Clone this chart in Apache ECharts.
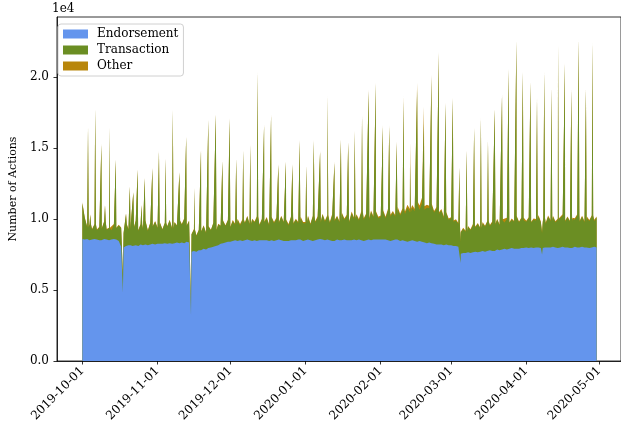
<!DOCTYPE html>
<html><head><meta charset="utf-8">
<script src="https://cdn.jsdelivr.net/npm/echarts@6/dist/echarts.min.js"></script>
<style>html,body{margin:0;padding:0;background:#fff}#c{width:621px;height:431px}</style>
</head><body><div id="c"></div>
<script>
// ---- data ----
const seriesNames = ['Endorsement', 'Transaction', 'Other'];
const firstDay = '2019-10-01';
// daily baseline values (Oct 1, 2019 .. Apr 30, 2020), one row per month
const endorsement = [
  8600,8550,8600,8500,8550,8600,8550,8500,8550,8600,8550,8500,8550,8600,8550,8450,8050,8000,8100,8150,8100,8200,8150,8100,8200,8150,8200,8150,8200,8250,8200,
  8250,8200,8250,8300,8250,8300,8250,8300,8350,8300,8350,8300,8400,8350,7700,7750,7700,7800,7850,7900,7850,7950,8000,8050,8100,8150,8250,8300,8350,8400,
  8400,8450,8500,8450,8500,8450,8500,8550,8500,8450,8500,8450,8500,8500,8550,8500,8450,8500,8450,8500,8550,8500,8450,8400,8450,8500,8450,8500,8550,8500,8450,
  8500,8550,8500,8450,8500,8550,8600,8550,8500,8550,8500,8450,8500,8550,8500,8500,8550,8500,8450,8500,8550,8500,8550,8500,8450,8500,8550,8500,8550,8600,8550,
  8550,8500,8550,8500,8450,8500,8550,8500,8450,8500,8450,8400,8450,8500,8450,8400,8450,8400,8350,8300,8350,8300,8250,8200,8250,8200,8150,8200,8150,
  8150,8100,8100,8050,7550,7600,7600,7650,7600,7650,7700,7650,7700,7750,7700,7750,7800,7750,7800,7850,7800,7850,7900,7850,7900,7950,7900,7950,7900,7950,7950,
  8000,7950,8000,7950,8000,8000,7950,8000,7950,8000,8000,8050,8000,7950,8000,8050,8000,8000,7950,8000,8050,8000,8000,8050,8000,8000,7950,8000,8050,8000
];
const transaction = [
  2500,1500,800,1100,700,1000,650,900,750,1200,700,850,650,1000,800,1100,1300,1000,1500,1100,1600,1200,1700,1050,1400,1150,1650,1000,1500,1200,1600,
  1100,1500,1000,1400,1200,1600,1050,1450,1150,1550,1250,1700,1100,1500,1200,1500,1100,1400,1250,1600,1150,1500,1200,1650,1100,1450,1250,1550,1150,1500,
  1000,1400,1100,1500,1050,1450,1200,1600,1100,1500,1250,1650,1050,1450,1200,1550,1100,1600,1250,1500,1150,1650,1300,1500,1100,1600,1200,1450,1150,1550,1250,
  1200,1600,1100,1700,1250,1550,1150,1750,1300,1650,1200,1800,1350,1600,1250,1850,1400,1700,1300,1900,1450,1750,1350,1950,1500,1800,1400,2000,1550,1850,1500,
  1600,2000,1500,2100,1700,1950,1600,2200,1800,2100,1900,2400,2000,2300,2100,2600,2200,2700,2300,2500,2400,2650,2200,2500,2100,2400,1900,2200,1800,
  1900,1700,1800,1600,1500,1700,1500,1800,1600,1900,1700,2000,1650,1950,1750,2050,1700,2000,1800,2100,1750,2050,1850,2150,1800,2000,1900,2200,1850,2100,1950,
  1800,2100,1750,2000,1900,2200,1800,2050,1700,2150,1850,2100,1750,2000,1900,2200,1800,2100,1850,2000,1900,2250,1800,2100,1750,2050,1900,2200,1800,2100
];
const other = [
  80,60,50,40,50,40,60,50,40,50,50,40,60,50,40,50,50,40,60,50,50,40,60,50,50,40,60,50,50,40,60,
  50,60,50,40,60,50,60,40,60,50,50,60,40,50,40,50,60,50,40,60,50,60,50,40,50,60,50,40,60,50,
  60,80,70,60,100,80,60,70,90,60,80,100,70,60,80,90,70,60,80,100,70,80,60,70,90,80,60,70,80,100,80,
  80,100,80,70,90,100,80,70,100,80,90,100,80,70,100,90,80,100,80,120,100,90,100,120,100,80,120,100,90,120,100,
  100,120,100,120,150,120,110,150,120,150,180,200,250,180,150,200,300,400,250,200,180,150,120,150,120,100,120,100,80,
  80,100,80,60,60,80,70,60,80,100,80,70,60,80,70,60,80,100,80,70,60,80,100,80,70,80,60,80,70,60,80,
  80,70,60,80,100,80,70,60,80,100,80,70,90,80,60,80,100,80,70,80,100,80,70,80,100,120,80,70,100,80
];
// short-lived bursts and drops (hour resolution)
const eventTimes = [
  '2019-10-03 08','2019-10-04 06','2019-10-06 07','2019-10-08 20','2019-10-10 08','2019-10-12 02','2019-10-14 19','2019-10-17 17',
  '2019-10-19 00','2019-10-20 14','2019-10-22 00','2019-10-23 19','2019-10-25 09','2019-10-26 17','2019-10-29 21',
  '2019-11-01 14','2019-11-04 07','2019-11-07 07','2019-11-10 00','2019-11-12 19','2019-11-14 19','2019-11-16 02','2019-11-18 22',
  '2019-11-21 22','2019-11-25 00','2019-11-27 17','2019-11-30 17',
  '2019-12-03 10','2019-12-06 07','2019-12-09 05','2019-12-12 05','2019-12-14 22','2019-12-17 19','2019-12-20 19','2019-12-23 22',
  '2019-12-26 14','2019-12-29 14',
  '2020-01-01 07','2020-01-04 10','2020-01-07 00','2020-01-10 02','2020-01-12 22','2020-01-15 14','2020-01-18 14','2020-01-21 07',
  '2020-01-24 07','2020-01-27 00','2020-01-29 22',
  '2020-02-01 22','2020-02-04 12','2020-02-07 14','2020-02-10 10','2020-02-13 02','2020-02-16 00','2020-02-18 19','2020-02-21 22',
  '2020-02-24 22','2020-02-27 17',
  '2020-03-01 17','2020-03-04 10','2020-03-04 22','2020-03-07 10','2020-03-10 12','2020-03-13 07','2020-03-16 05','2020-03-19 00',
  '2020-03-22 00','2020-03-24 17','2020-03-27 22','2020-03-30 14',
  '2020-04-02 17','2020-04-05 10','2020-04-07 12','2020-04-08 10','2020-04-11 10','2020-04-14 02','2020-04-16 22','2020-04-19 14',
  '2020-04-22 14','2020-04-25 14','2020-04-28 07'
];
const eventEndorsement = [
  8600,8500,8600,8500,8600,8500,8600,4800,
  8100,8150,8200,8100,8150,8200,8250,
  8250,8300,8250,8300,8300,3200,7750,7800,
  7950,8100,8250,8400,
  8500,8450,8500,8450,8500,8450,8500,8450,
  8500,8550,
  8500,8450,8600,8550,8450,8500,8500,8550,
  8500,8550,8550,
  8550,8500,8500,8500,8400,8400,8350,8300,
  8200,8150,
  8150,8050,6900,7600,7650,7700,7700,7750,
  7850,7900,7900,7950,
  7950,8000,7500,7950,8000,7950,8000,7950,
  8000,8000,8000
];
const eventTransaction = [
  7850,1780,9150,6750,2350,7950,5550,1200,
  2250,4100,3650,5350,2800,4650,5300,
  6500,5950,9400,4950,7450,600,4400,7050,
  9000,9250,5800,8650,
  5700,6350,6700,11850,8100,8850,5300,5550,
  5300,6950,
  5200,7050,6100,10100,5500,7050,6850,7600,
  8700,10450,10950,
  7950,8000,6850,9800,5500,10700,8350,11700,
  13450,9950,
  10300,5550,1500,7200,8700,9400,7800,9950,
  10850,12600,14600,12350,
  11650,10450,1500,12350,11200,14250,12900,11150,
  14600,11100,14400
];
const eventOther = [
  60,50,60,60,60,60,60,30,
  60,60,60,60,60,60,60,
  60,60,60,60,60,20,60,60,
  60,60,60,60,
  80,80,80,80,80,80,80,80,
  80,80,
  80,80,80,100,100,100,100,100,
  120,120,120,
  120,120,150,400,1500,500,1200,200,
  150,120,
  100,80,40,80,100,80,80,80,
  80,80,80,80,
  80,100,60,80,80,80,80,80,
  80,150,80
];
const xTickLabels = ['2019-10-01','2019-11-01','2019-12-01','2020-01-01','2020-02-01','2020-03-01','2020-04-01','2020-05-01'];
const yTickValues = [0, 5000, 10000, 15000, 20000];
const yTickLabels = ['0.0', '0.5', '1.0', '1.5', '2.0'];
const colors = ['#6495ED', '#6B8E23', '#B8860B'];

// ---- build ----
if (endorsement.length !== transaction.length || endorsement.length !== other.length ||
    eventTimes.length !== eventEndorsement.length || eventTimes.length !== eventTransaction.length || eventTimes.length !== eventOther.length) {
  throw new Error('length mismatch ' + [endorsement.length, transaction.length, other.length, eventTimes.length, eventEndorsement.length, eventTransaction.length, eventOther.length].join(','));
}
function parseTime(s) {
  const [d, h] = s.split(' ');
  const [y, m, dd] = d.split('-').map(Number);
  return new Date(y, m - 1, dd, h ? Number(h) : 0).getTime();
}
const HOUR = 3600e3, DAY = 24 * HOUR;
const t0 = parseTime(firstDay);
const dayIndex = t => Math.max(0, Math.min(endorsement.length - 1, Math.floor((t - t0 + 2 * HOUR) / DAY)));
const pts = new Map();
endorsement.forEach((v, i) => {
  const d0 = new Date(t0); d0.setDate(d0.getDate() + i);
  pts.set(d0.getTime(), [endorsement[i], transaction[i], other[i]]);
});
const halfWidth = 7 * HOUR;
eventTimes.forEach((s, k) => {
  const t = parseTime(s);
  pts.set(t, [eventEndorsement[k], eventTransaction[k], eventOther[k]]);
  [t - halfWidth, t + halfWidth].forEach(tn => {
    if (!pts.has(tn)) { const i = dayIndex(tn); pts.set(tn, [endorsement[i], transaction[i], other[i]]); }
  });
});
const times = Array.from(pts.keys()).sort((a, b) => a - b);
// stacked (cumulative) levels: layer si = sum of components 0..si
const cumulative = si => times.map(t => { const v = pts.get(t); let s = 0; for (let j = 0; j <= si; j++) s += v[j]; return [t, s]; });

const xTickValues = xTickLabels.map(parseTime);
const xLabelMap = {}; xTickValues.forEach((v, i) => xLabelMap[v] = xTickLabels[i]);
const yLabelMap = {}; yTickValues.forEach((v, i) => yLabelMap[v] = yTickLabels[i]);

const FONT = 'DejaVu Serif';
const chart = echarts.init(document.getElementById('c'), null, { renderer: 'canvas' });
chart.setOption({
  animation: false,
  backgroundColor: '#fff',
  textStyle: { fontFamily: FONT },
  grid: { left: 52, right: -3, top: 17, bottom: 70, show: true, borderColor: '#000', borderWidth: 0.8, backgroundColor: 'transparent' },
  xAxis: {
    type: 'value',
    min: parseTime('2019-09-20 13'),
    max: parseTime('2020-05-10 01'),
    axisLine: { show: true, lineStyle: { color: '#000', width: 0.8 } },
    axisTick: { show: true, customValues: xTickValues, length: 3.5, lineStyle: { color: '#000', width: 0.8 } },
    axisLabel: {
      customValues: xTickValues, rotate: 45, margin: 8, color: '#000', fontFamily: FONT, fontSize: 12,
      formatter: v => xLabelMap[v] || ''
    },
    splitLine: { show: false }
  },
  yAxis: {
    type: 'value', min: 0, max: 24225,
    name: 'Number of Actions', nameLocation: 'middle', nameGap: 36,
    nameTextStyle: { color: '#000', fontFamily: FONT, fontSize: 11 },
    axisLine: { show: true, lineStyle: { color: '#000', width: 0.8 } },
    axisTick: { show: true, customValues: yTickValues, length: 3.5, lineStyle: { color: '#000', width: 0.8 } },
    axisLabel: { customValues: yTickValues, margin: 8, color: '#000', fontFamily: FONT, fontSize: 12, formatter: v => yLabelMap[v] ?? '' },
    splitLine: { show: false }
  },
  legend: {
    orient: 'vertical', left: 58, top: 24,
    data: seriesNames, icon: 'rect', itemWidth: 25, itemHeight: 9, itemGap: 4,
    backgroundColor: '#fff', borderColor: '#d0d0d0', borderWidth: 1, borderRadius: 3,
    padding: [4, 5, 4, 5],
    textStyle: { color: '#000', fontFamily: FONT, fontSize: 12, padding: [0, 0, 0, 4] }
  },
  graphic: [{ type: 'text', left: 52, top: 3, style: { text: '1e4', font: '12px "DejaVu Serif"', fill: '#000' } }],
  series: [2, 1, 0].map(si => ({
    type: 'line', name: seriesNames[si], symbol: 'none', showSymbol: false,
    color: colors[si], z: 3 - si,
    lineStyle: { width: 0 },
    areaStyle: { color: colors[si], opacity: 1 },
    data: cumulative(si)
  }))
});
</script></body></html>
